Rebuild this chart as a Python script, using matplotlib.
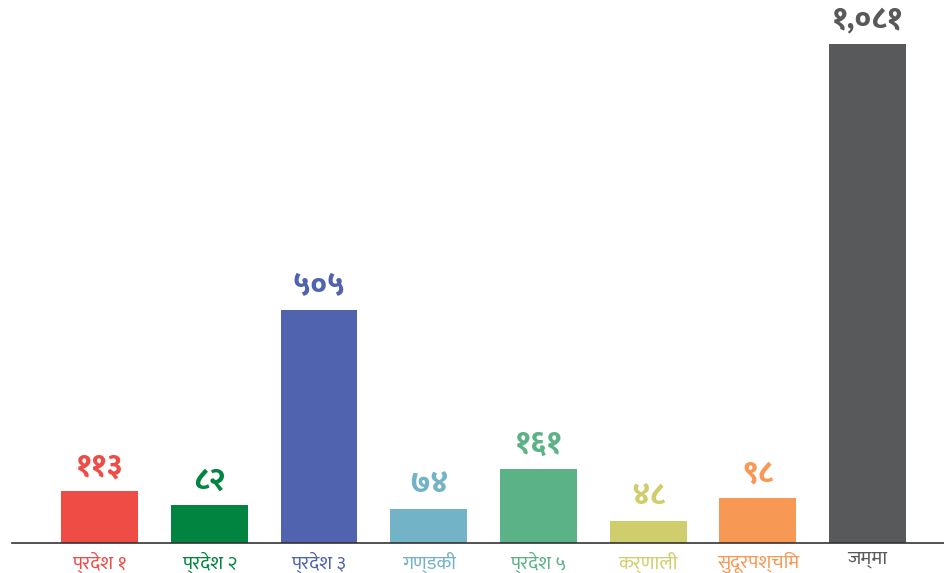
import matplotlib
matplotlib.use("Agg")
import matplotlib.pyplot as plt

# ----------------------------
# Data
# ----------------------------
categories = ["प्रदेश १", "प्रदेश २", "प्रदेश ३", "गण्डकी", "प्रदेश ५", "कर्णाली", "सुदूरपश्चिम", "जम्मा"]
values = [113, 82, 505, 74, 161, 48, 98, 1081]
value_labels = ["११३", "८२", "५०५", "७४", "१६१", "४८", "९८", "१,०८१"]
colors = ["#f04c46", "#00843f", "#5063ae", "#73b3c7", "#5cb287", "#d0ce6c", "#f89855", "#58595b"]

plt.rcParams['font.family'] = ["Ek Mukta", "DejaVu Sans"]

fig = plt.figure(figsize=(9.44, 5.73), dpi=100)
ax = fig.add_axes([12 / 944, 30 / 573, 932 / 944, 543 / 573])

x = list(range(len(categories)))
ax.bar(x, values, width=0.7, color=colors, zorder=2)

ax.set_xlim(-0.798, 7.697)
ax.set_ylim(0, 1081 * 543 / 499)

for xi, v, lab, c in zip(x, values, value_labels, colors):
    ax.annotate(lab, (xi, v), xytext=(0, 7), textcoords="offset points",
                ha="center", va="bottom", fontsize=22, fontweight=800, color=c)

ax.set_xticks(x)
ax.set_xticklabels(categories, fontsize=14)
for tl, c in zip(ax.get_xticklabels(), colors):
    tl.set_color(c)
ax.tick_params(axis="x", length=0, pad=6)
ax.set_yticks([])

for side in ("top", "right", "left"):
    ax.spines[side].set_visible(False)
ax.spines["bottom"].set_color("#333333")
ax.spines["bottom"].set_linewidth(1.2)

fig.savefig("out.png", dpi=100)
